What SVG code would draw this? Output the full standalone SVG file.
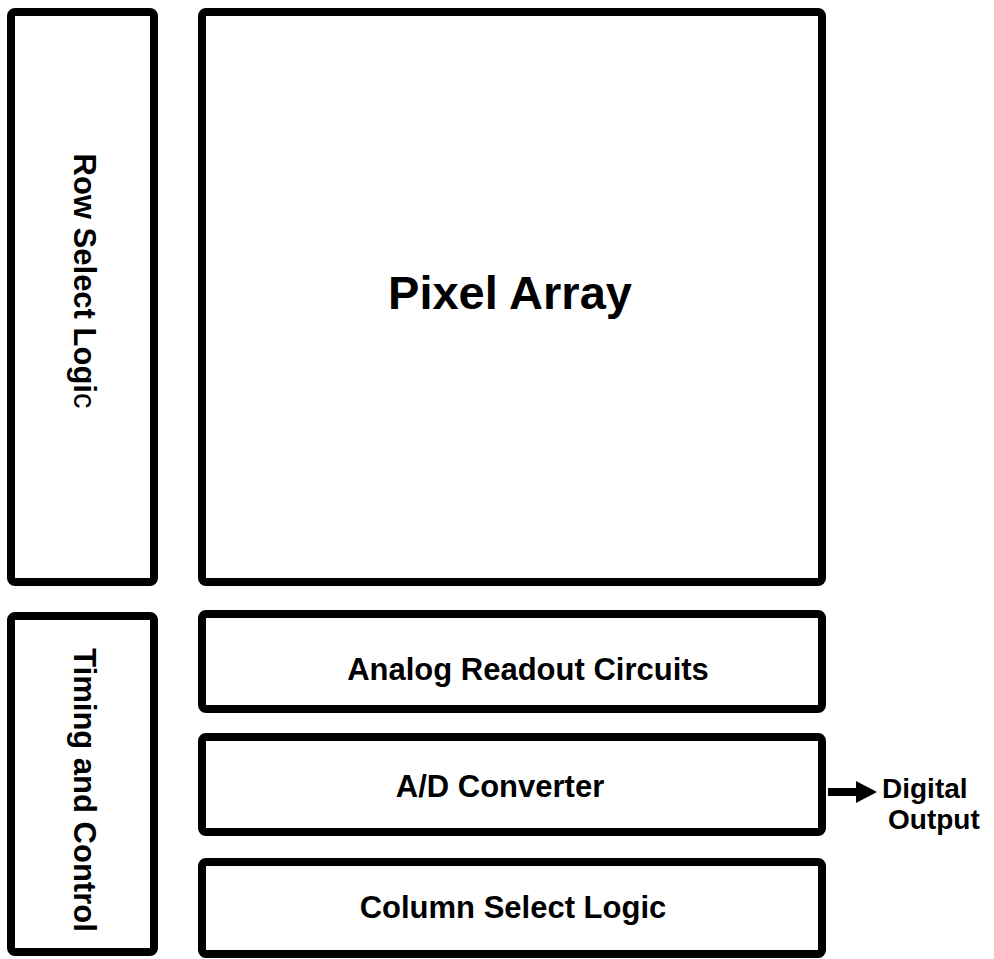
<svg xmlns="http://www.w3.org/2000/svg" width="994" height="959" viewBox="0 0 994 959">
<style>
.box{fill:#fff;stroke:#000;stroke-width:8;stroke-linejoin:round}
text{font-family:"Liberation Sans",Arial,sans-serif;font-weight:bold;fill:#000}
.lbl{font-size:31px;text-anchor:middle}
</style>
<rect width="994" height="959" fill="#fff"/>
<g id="row-select">
<rect class="box" x="11" y="12" width="143" height="570" rx="4"/>
<text class="lbl" transform="translate(74,281) rotate(90)">Row Select Logi<tspan font-weight="normal">c</tspan></text>
</g>
<g id="pixel-array">
<rect class="box" x="202" y="12" width="620" height="570" rx="4"/>
<text x="510" y="309" font-size="47" text-anchor="middle">Pixel Array</text>
</g>
<g id="timing-control">
<rect class="box" x="11" y="616" width="143" height="336" rx="4"/>
<text class="lbl" transform="translate(74,790) rotate(90)">Timing and Control</text>
</g>
<g id="analog-readout">
<rect class="box" x="202" y="614" width="620" height="95" rx="4"/>
<text class="lbl" x="528" y="680">Analog Readout Circuits</text>
</g>
<g id="ad-converter">
<rect class="box" x="202" y="737" width="620" height="95" rx="4"/>
<text class="lbl" x="500" y="797">A/D Converter</text>
</g>
<g id="column-select">
<rect class="box" x="202" y="862" width="620" height="92" rx="4"/>
<text class="lbl" x="513" y="918">Column Select Logic</text>
</g>
<g id="digital-output">
<text x="882" y="798" font-size="28">Digital</text>
<text x="888" y="829" font-size="28">Output</text>
</g>
<g id="connectors">
<line x1="828" y1="792" x2="860" y2="792" stroke="#000" stroke-width="8"/>
<polygon points="856,781 877,792 856,803" fill="#000"/>
</g>
</svg>
